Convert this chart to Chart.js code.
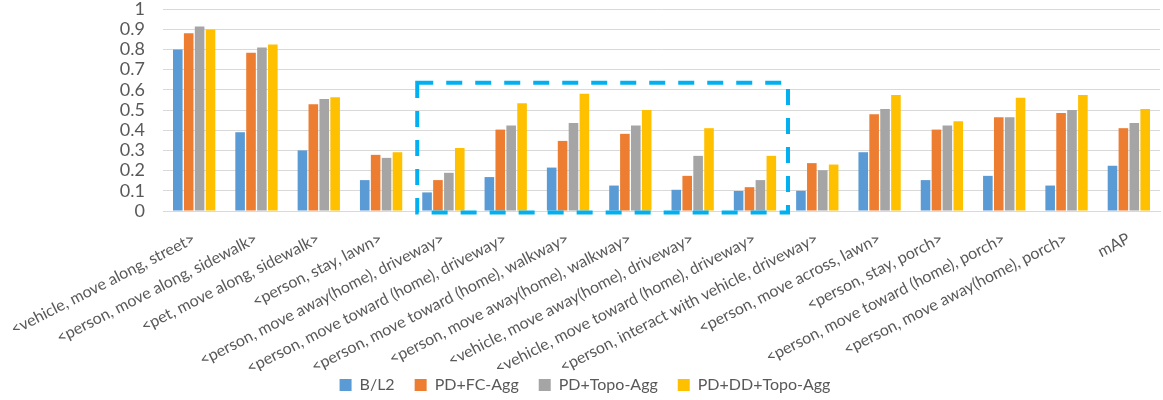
<!doctype html>
<html lang="en">
<head>
    <meta charset="utf-8">
    <title>Per-relation AP</title>
    <style>
        body { margin: 0; background: #fff; }
        #wrap { width: 1163px; height: 400px; }
    </style>
</head>
<body>
    <div id="wrap"><canvas id="apChart" width="1163" height="400"></canvas></div>
    <script src="https://cdn.jsdelivr.net/npm/chart.js"></script>
    <script>
        // categories (relations) and the four methods
        const relations = [
            '<vehicle, move along, street>',
            '<person, move along, sidewalk>',
            '<pet, move along, sidewalk>',
            '<person, stay, lawn>',
            '<person, move away(home), driveway>',
            '<person, move toward (home), driveway>',
            '<person, move toward (home), walkway>',
            '<person, move away(home), walkway>',
            '<vehicle, move away(home), driveway>',
            '<vehicle, move toward (home), driveway>',
            '<person, interact with vehicle, driveway>',
            '<person, move across, lawn>',
            '<person, stay, porch>',
            '<person, move toward (home), porch>',
            '<person, move away(home), porch>',
            'mAP'
        ];
        const blL2 = [0.80, 0.39, 0.30, 0.153, 0.092, 0.168, 0.215, 0.126, 0.105, 0.099, 0.10, 0.291, 0.153, 0.174, 0.126, 0.224];
        const pdFcAgg = [0.88, 0.783, 0.528, 0.278, 0.153, 0.403, 0.347, 0.382, 0.174, 0.118, 0.237, 0.479, 0.403, 0.464, 0.485, 0.41];
        const pdTopoAgg = [0.913, 0.809, 0.554, 0.263, 0.189, 0.423, 0.436, 0.423, 0.273, 0.153, 0.202, 0.505, 0.423, 0.464, 0.50, 0.436];
        const pdDdTopoAgg = [0.898, 0.824, 0.563, 0.291, 0.312, 0.533, 0.581, 0.50, 0.41, 0.273, 0.23, 0.574, 0.444, 0.561, 0.574, 0.505];
        const yTicks = [0, 0.1, 0.2, 0.3, 0.4, 0.5, 0.6, 0.7, 0.8, 0.9, 1];

        // highlighted block: category index range and value range
        const boxX = [3.58, 9.53];
        const boxY = [-0.008, 0.635];

        const textGray = '#595959';

        const dashedBox = {
            id: 'dashedBox',
            afterDatasetsDraw(chart) {
                const { ctx, scales } = chart;
                const x1 = scales.x.getPixelForValue(boxX[0]);
                const x2 = scales.x.getPixelForValue(boxX[1]);
                const y1 = scales.y.getPixelForValue(boxY[1]);
                const y2 = scales.y.getPixelForValue(boxY[0]);
                ctx.save();
                ctx.strokeStyle = '#00B0F0';
                ctx.lineWidth = 4;
                ctx.setLineDash([16, 13]);
                ctx.strokeRect(x1, y1, x2 - x1, y2 - y1);
                ctx.restore();
            }
        };

        new Chart(document.getElementById('apChart'), {
            type: 'bar',
            data: {
                labels: relations,
                datasets: [
                    { label: 'B/L2', data: blL2, backgroundColor: '#5B9BD5' },
                    { label: 'PD+FC-Agg', data: pdFcAgg, backgroundColor: '#ED7D31' },
                    { label: 'PD+Topo-Agg', data: pdTopoAgg, backgroundColor: '#A5A5A5' },
                    { label: 'PD+DD+Topo-Agg', data: pdDdTopoAgg, backgroundColor: '#FFC000' }
                ]
            },
            options: {
                responsive: false,
                animation: false,
                layout: { padding: { top: 0, right: 3, bottom: -3, left: 24 } },
                datasets: {
                    bar: { categoryPercentage: 0.7, barPercentage: 0.88 }
                },
                plugins: {
                    legend: {
                        position: 'bottom',
                        labels: {
                            boxWidth: 12,
                            boxHeight: 12,
                            padding: 6,
                            color: textGray,
                            font: { family: 'Lato', size: 16 },
                            // extra room after each entry, like the original
                            generateLabels(chart) {
                                return Chart.defaults.plugins.legend.labels.generateLabels(chart)
                                    .map(item => ({ ...item, text: item.text + '\u2003\u2009' }));
                            }
                        }
                    },
                    tooltip: { enabled: false }
                },
                scales: {
                    x: {
                        grid: { display: false },
                        border: { color: '#D9D9D9', width: 1 },
                        ticks: {
                            autoSkip: false,
                            minRotation: 27,
                            maxRotation: 27,
                            padding: 10,
                            color: textGray,
                            font: { family: 'Lato', size: 16 }
                        },
                        afterFit(scale) {
                            scale.height = 160;
                            scale.paddingLeft = 0;
                            scale.paddingRight = 0;
                        }
                    },
                    y: {
                        min: 0,
                        max: 1,
                        afterBuildTicks(scale) { scale.ticks = yTicks.map(v => ({ value: v })); },
                        grid: { color: '#D9D9D9', lineWidth: 1, drawTicks: false },
                        border: { display: false },
                        ticks: {
                            autoSkip: false,
                            padding: 18,
                            color: textGray,
                            font: { family: 'Lato', size: 18 },
                            callback: v => String(Math.round(v * 10) / 10)
                        },
                        afterFit(scale) {
                            scale.width = 139;
                            scale.paddingTop = 9;
                            scale.paddingBottom = 0;
                        }
                    }
                }
            },
            plugins: [dashedBox]
        });
    </script>
</body>
</html>
